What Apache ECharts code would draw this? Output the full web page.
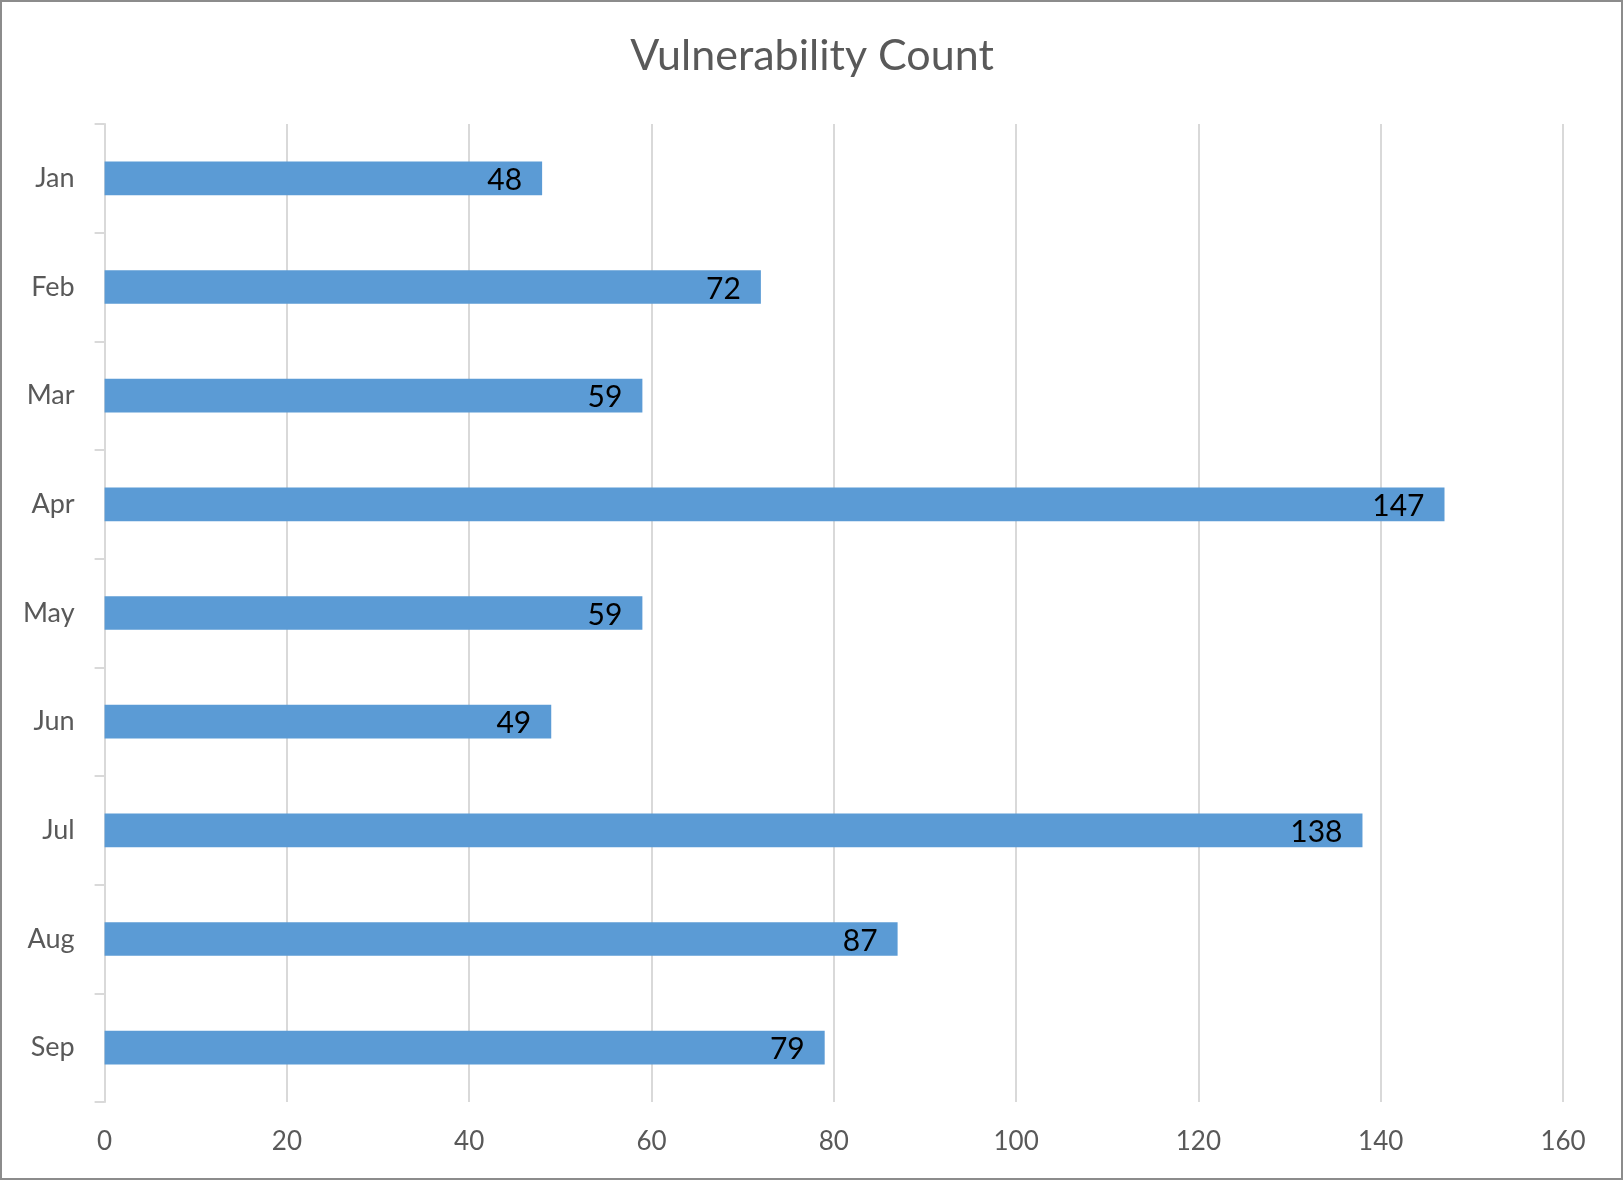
<!DOCTYPE html>
<html>
<head>
<meta charset="utf-8">
<script src="https://cdn.jsdelivr.net/npm/echarts@6/dist/echarts.min.js"></script>
<style>
html,body{margin:0;padding:0;background:#fff;}
#chart{width:1624px;height:1181px;}
</style>
</head>
<body>
<div id="chart"></div>
<script>
const titleText = 'Vulnerability Count';
const categories = ['Jan','Feb','Mar','Apr','May','Jun','Jul','Aug','Sep'];
const values = [48, 72, 59, 147, 59, 49, 138, 87, 79];
const xTicks = {min: 0, max: 160, interval: 20};

const chart = echarts.init(document.getElementById('chart'));
const font = 'Lato, "Open Sans", sans-serif';
chart.setOption({
  backgroundColor: '#ffffff',
  animation: false,
  title: {
    text: titleText,
    left: 'center',
    top: 30,
    textStyle: {fontFamily: font, fontSize: 43, fontWeight: 'normal', color: '#595959'}
  },
  graphic: [{
    type: 'rect',
    shape: {x: 1, y: 1, width: 1621, height: 1178},
    style: {fill: 'none', stroke: '#8c8c8c', lineWidth: 2},
    silent: true
  }],
  grid: {left: 104.6, right: 61, top: 124, bottom: 79, containLabel: false},
  xAxis: {
    type: 'value',
    min: xTicks.min, max: xTicks.max, interval: xTicks.interval,
    axisLine: {show: false},
    axisTick: {show: false},
    splitLine: {show: true, lineStyle: {color: '#d9d9d9', width: 2}},
    axisLabel: {fontFamily: font, fontSize: 26, color: '#595959', margin: 27}
  },
  yAxis: {
    type: 'category',
    data: categories,
    inverse: true,
    axisLine: {show: true, lineStyle: {color: '#d9d9d9', width: 2}},
    axisTick: {show: true, length: 10, lineStyle: {color: '#d9d9d9', width: 2}},
    splitLine: {show: false},
    axisLabel: {fontFamily: font, fontSize: 27, color: '#595959', margin: 30}
  },
  series: [{
    type: 'bar',
    data: values,
    barWidth: '31%',
    itemStyle: {color: '#5b9bd5'},
    label: {
      show: true,
      position: 'insideRight',
      distance: 20,
      offset: [0, 2],
      fontFamily: font,
      fontSize: 30,
      color: '#000000'
    }
  }]
});
</script>
</body>
</html>
